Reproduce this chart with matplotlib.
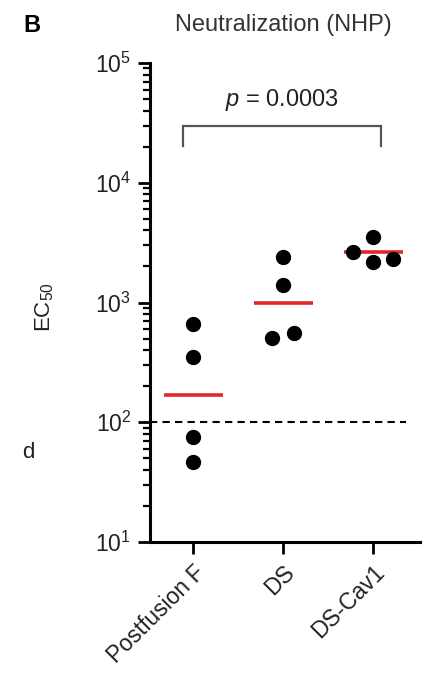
import numpy as np
import matplotlib
matplotlib.use("Agg")
import matplotlib.pyplot as plt
from matplotlib.ticker import LogLocator, NullFormatter

plt.rcParams['font.family'] = ['Liberation Sans', 'DejaVu Sans']
plt.rcParams['mathtext.fontset'] = 'custom'
plt.rcParams['mathtext.rm'] = 'Liberation Sans'
plt.rcParams['mathtext.it'] = 'Liberation Sans:italic'

# ---- data ----
categories = ["Postfusion F", "DS", "DS-Cav1"]
postfusion_vals = [660, 350, 75, 47]
ds_vals = [510, 555, 1400, 2420]
dscav1_vals = [2640, 3540, 2180, 2310]
group_means = [170, 1000, 2620]
threshold = 100
p_text = "$p$ = 0.0003"
title = "Neutralization (NHP)"
ylabel = "EC$_{50}$"
panel = "B"
ytick_vals = [1e1, 1e2, 1e3, 1e4, 1e5]
ytick_labels = ["10$^{1}$", "10$^{2}$", "10$^{3}$", "10$^{4}$", "10$^{5}$"]

series = [postfusion_vals, ds_vals, dscav1_vals]
jitter = [[0, 0, 0, 0], [-0.12, 0.12, 0, 0], [-0.22, 0, 0, 0.22]]

W, H = 430, 680
fig = plt.figure(figsize=(W / 100, H / 100), dpi=100)
ax = fig.add_axes([150 / W, 1 - 542 / H, 270 / W, (542 - 63) / H])

red = "#e3262b"
for i, vals in enumerate(series):
    xs = [i + j for j in jitter[i]]
    ax.plot(xs, vals, 'o', color='black', markersize=10, zorder=3, clip_on=False)
    ax.plot([i - 0.33, i + 0.33], [group_means[i]] * 2, color=red, lw=2.6, zorder=2,
            solid_capstyle='butt')

ax.plot([-0.48, 2.36], [threshold, threshold], ls=(0, (3.5, 2.5)), color='black', lw=1.5, zorder=1)

# significance bracket
bx0, bx1 = -0.11, 2.09
ytop, ybot = 30000, 20300
ax.plot([bx0, bx0, bx1, bx1], [ybot, ytop, ytop, ybot], color='#555555', lw=1.6,
        solid_joinstyle='miter')
ax.text((bx0 + bx1) / 2, 48700, p_text, ha='center', va='center', fontsize=17, color='#222222')

ax.set_yscale('log')
ax.set_ylim(10, 1e5)
ax.set_xlim(-0.48, 2.52)
ax.set_yticks(ytick_vals)
ax.set_yticklabels(ytick_labels, fontsize=16.5, color='#222222')
ax.yaxis.set_minor_locator(LogLocator(base=10, subs=np.arange(2, 10)))
ax.yaxis.set_minor_formatter(NullFormatter())
ax.set_xticks(range(len(categories)))
ax.set_xticklabels(categories, rotation=45, ha='right', rotation_mode='anchor', fontsize=16.5,
                   color='#222222')

for s in ['top', 'right']:
    ax.spines[s].set_visible(False)
for s in ['left', 'bottom']:
    ax.spines[s].set_linewidth(2.2)
ax.tick_params(axis='y', which='major', length=8.5, width=2, pad=5)
ax.tick_params(axis='y', which='minor', length=5, width=1.6)
ax.tick_params(axis='x', which='major', length=8.5, width=2, pad=5)

fig.text(45 / W, 1 - 307 / H, ylabel, rotation=90, ha='center', va='center', fontsize=16,
         color='#222222')
fig.text(28 / W, 1 - 452 / H, "d", ha='center', va='center', fontsize=16, color='#222222')
fig.text(283 / W, 1 - 25 / H, title, ha='center', va='center', fontsize=17, color='#333333')
fig.text(32 / W, 1 - 25 / H, panel, ha='center', va='center', fontsize=17, fontweight='bold')

fig.savefig("out.png", dpi=100)
